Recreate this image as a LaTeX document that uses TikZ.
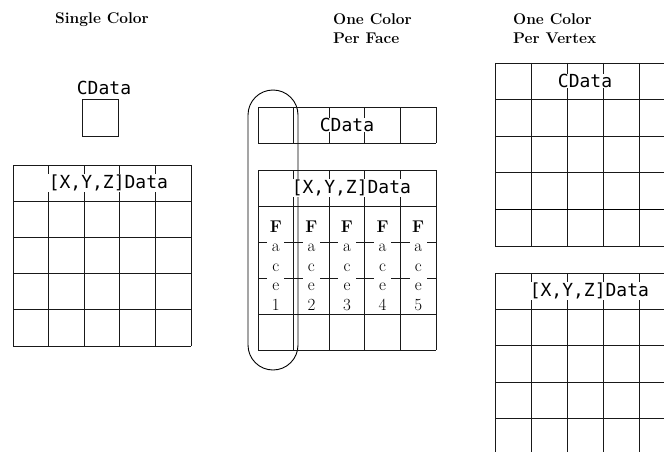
\documentclass[tikz,border=0pt]{standalone}
\usepackage{fontspec}
\newfontfamily\datafont{DejaVu Sans Mono}
\usetikzlibrary{positioning}

\begin{document}
\begin{tikzpicture}[
      x=1pt, y=-1pt,
      gridline/.style={line width=0.8pt, black!90},
      heavyline/.style={line width=1.8pt, black},
      heading/.style={font=\fontsize{15.5}{19}\selectfont\bfseries, align=left, inner sep=0pt},
      datalabel/.style={font=\datafont\fontsize{18}{18}\selectfont, fill=white, inner sep=0.6pt},
      facelabel/.style={fill=white, inner sep=2.5pt, align=center, font=\fontsize{17}{19.5}\selectfont},
      cellbox/.style={draw, line width=0.8pt, black!90, minimum width=36pt, minimum height=37pt, inner sep=0pt},
      loopline/.style={line width=0.9pt, rounded corners=25pt}
    ]
      \useasboundingbox (0,0) rectangle (664,452);
      \clip (0,0) rectangle (664,452);

      % Single Color
      \node[heading, anchor=base] (single) at (102,24) {Single Color};
      \node[datalabel, fill=none, anchor=base] (cdata1) at (104,94) {CData};
      \node[cellbox] (cbox1) at (100,118) {};
      \foreach \i in {0,...,5} {
        \draw[gridline] ({13+35.6*\i},165) -- ({13+35.6*\i},346);
        \draw[gridline] (13,{165+36.2*\i}) -- (191,{165+36.2*\i});
      }
      \node[datalabel, anchor=west] (xyz1) at (48,183) {[X,Y,Z]Data};

      % One Color Per Face
      \node[heading, anchor=north west] (perface) at (333,13) {One Color\\Per Face};
      \draw[loopline] (248,90) rectangle (298,370);
      \foreach \i in {0,...,5} {
        \draw[gridline] ({258+35.6*\i},107) -- ({258+35.6*\i},143);
        \draw[gridline] ({258+35.6*\i},170) -- ({258+35.6*\i},350);
        \draw[gridline] (258,{170+36*\i}) -- (436,{170+36*\i});
      }
      \draw[gridline] (258,107) -- (436,107);
      \draw[gridline] (258,143) -- (436,143);
      \node[datalabel] (cdata2) at (347,125) {CData};
      \node[datalabel, anchor=west] (xyz2) at (291,188) {[X,Y,Z]Data};
      \foreach \i in {1,...,5}
        \node[facelabel, anchor=north] (face\i) at ({258+35.6*(\i-0.5)},218)
          {{\bfseries F}\\a\\c\\e\\\i};

      % One Color Per Vertex
      \node[heading, anchor=north west] (pervertex) at (513,13) {One Color\\Per Vertex};
      \foreach \i in {0,...,5} {
        \draw[gridline] ({495+36*\i},63) -- ({495+36*\i},246);
        \draw[gridline] ({495+36*\i},273) -- ({495+36*\i},455);
        \draw[gridline] (495,{273+36.4*\i}) -- (675,{273+36.4*\i});
      }
      \foreach \y in {63,99.6,136.2,172.8,246}
        \draw[gridline] (495,\y) -- (675,\y);
      \draw[heavyline] (495,209.4) -- (675,209.4);
      \node[datalabel] (cdata3) at (585,81) {CData};
      \node[datalabel, anchor=west] (xyz3) at (529,291) {[X,Y,Z]Data};
    \end{tikzpicture}
\end{document}
